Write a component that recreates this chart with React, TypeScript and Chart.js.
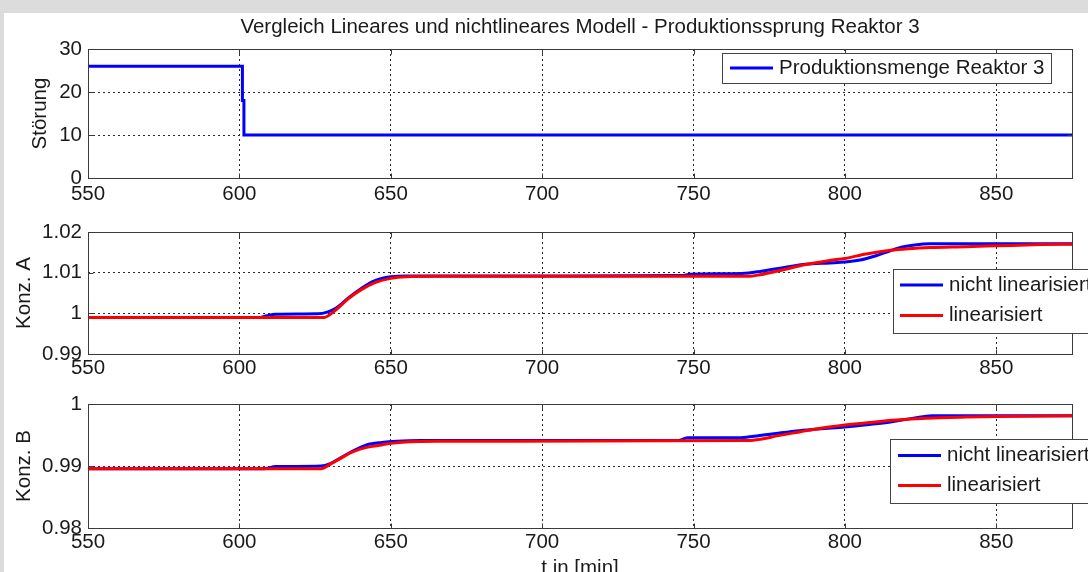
import React, { useEffect, useRef } from "react";
import { Chart, registerables } from "chart.js";

Chart.register(...registerables);

const FONT = "'Liberation Sans', Arial, Helvetica, sans-serif";
const FONT_SIZE = 20.5;
const TEXT_COLOR = "#1a1a1a";

// ---------- data ----------
const chartTitle = "Vergleich Lineares und nichtlineares Modell - Produktionssprung Reaktor 3";
const xAxisTitle = "t in [min]";
const xTicks = [550, 600, 650, 700, 750, 800, 850];
const xMin = 550;
const xMax = 875;

// subplot 1: Störung
const yTicksStoerung = [0, 10, 20, 30];
const timeStoerung = [550, 601, 601, 601.5, 601.5, 875];
const stoerung = [26, 26, 18, 18, 10, 10];
const labelStoerung = "Produktionsmenge Reaktor 3";

// subplot 2: Konz. A
const yTicksA = [0.99, 1, 1.01, 1.02];
const timeA_nl = [550, 607, 609, 612, 626, 629, 632, 636, 640, 644, 647, 650, 655, 700, 746, 749, 766, 772, 780, 787, 795, 800, 805, 810, 815, 819, 823, 828, 875];
const konzA_nl = [0.999, 0.999, 0.9994, 0.9998, 0.9999, 1.0003, 1.0013, 1.0038, 1.006, 1.0078, 1.0086, 1.009, 1.0092, 1.0092, 1.0093, 1.0096, 1.0098, 1.0103, 1.0113, 1.0121, 1.0124, 1.0126, 1.0131, 1.0141, 1.0154, 1.0163, 1.0168, 1.0171, 1.0171];
const timeA_lin = [550, 628, 631, 636, 640, 645, 650, 655, 665, 768, 772, 780, 787, 795, 800, 807, 815, 821, 828, 840, 850, 865, 875];
const konzA_lin = [0.999, 0.999, 1.0003, 1.0036, 1.0057, 1.0076, 1.0086, 1.009, 1.0091, 1.0091, 1.0095, 1.0108, 1.012, 1.013, 1.0135, 1.0146, 1.0155, 1.0159, 1.0162, 1.0164, 1.0166, 1.0169, 1.017];

// subplot 3: Konz. B
const yTicksB = [0.98, 0.99, 1];
const timeB_nl = [550, 608, 612, 627, 630, 633, 637, 642, 647, 652, 660, 745, 748, 765, 770, 778, 785, 792, 800, 808, 815, 820, 825, 829, 875];
const konzB_nl = [0.98955, 0.98955, 0.9899, 0.99, 0.9904, 0.9912, 0.9923, 0.9934, 0.9938, 0.994, 0.9941, 0.9941, 0.99455, 0.99455, 0.9948, 0.9953, 0.9957, 0.996, 0.9963, 0.9967, 0.9971, 0.9975, 0.9979, 0.9981, 0.9981];
const timeB_lin = [550, 627, 630, 633, 637, 642, 647, 650, 656, 665, 768, 772, 778, 785, 792, 800, 808, 817, 827, 840, 850, 875];
const konzB_lin = [0.98955, 0.98955, 0.9903, 0.9911, 0.9922, 0.993, 0.9934, 0.99365, 0.9939, 0.994, 0.9941, 0.9943, 0.9949, 0.9955, 0.9961, 0.9966, 0.997, 0.9974, 0.9977, 0.9979, 0.998, 0.9981];

const labelNL = "nicht linearisiert";
const labelLin = "linearisiert";

// ---------- helpers ----------
const toPoints = (xs: number[], ys: number[]) => xs.map((x, i) => ({ x, y: ys[i] }));
const fmt = (v: number) => String(+Number(v).toFixed(4));

const matlabPlugin = {
  id: "matlabBox",
  afterDatasetsDraw(chart: any) {
    const { ctx, chartArea } = chart;
    const { left, right, top, bottom } = chartArea;
    ctx.save();
    ctx.strokeStyle = "#3a3a3a";
    ctx.lineWidth = 1;
    ctx.setLineDash([]);
    const L = Math.round(left) + 0.5;
    const R = Math.round(right) + 0.5;
    const T = Math.round(top) + 0.5;
    const B = Math.round(bottom) + 0.5;
    ctx.strokeRect(L, T, R - L, B - T);
    const tl = 5;
    const xs = chart.scales.x;
    const ys = chart.scales.y;
    ctx.beginPath();
    xs.ticks.forEach((t: any) => {
      const px = Math.round(xs.getPixelForValue(t.value)) + 0.5;
      ctx.moveTo(px, B); ctx.lineTo(px, B - tl);
      ctx.moveTo(px, T); ctx.lineTo(px, T + tl);
    });
    ys.ticks.forEach((t: any) => {
      const py = Math.round(ys.getPixelForValue(t.value)) + 0.5;
      ctx.moveTo(L, py); ctx.lineTo(L + tl, py);
      ctx.moveTo(R, py); ctx.lineTo(R - tl, py);
    });
    ctx.stroke();
    ctx.restore();
  },
  afterDraw(chart: any, _args: any, opts: any) {
    const lg = opts && opts.legend;
    if (!lg) return;
    const { ctx } = chart;
    ctx.save();
    ctx.fillStyle = "#ffffff";
    ctx.fillRect(lg.x, lg.y, lg.w, lg.h);
    ctx.strokeStyle = "#444444";
    ctx.lineWidth = 1;
    ctx.strokeRect(lg.x + 0.5, lg.y + 0.5, lg.w, lg.h);
    ctx.font = `${FONT_SIZE}px ${FONT}`;
    ctx.textBaseline = "middle";
    ctx.textAlign = "left";
    chart.data.datasets.forEach((ds: any, i: number) => {
      const y = lg.y + lg.firstRow + i * lg.rowGap;
      ctx.strokeStyle = ds.borderColor;
      ctx.lineWidth = 3;
      ctx.beginPath();
      ctx.moveTo(lg.x + lg.sampleStart, y);
      ctx.lineTo(lg.x + lg.sampleStart + lg.sampleLen, y);
      ctx.stroke();
      ctx.fillStyle = TEXT_COLOR;
      ctx.fillText(ds.label, lg.x + lg.textStart, y);
    });
    ctx.restore();
  },
};

type Spec = {
  datasets: any[];
  yMin: number;
  yMax: number;
  yTicks: number[];
  yTitle: string;
  yTitlePad: number;
  topPad: number;
  xAxisHeight: number;
  xLabelPad: number;
  title?: { text: string; padTop: number; padBottom: number };
  xTitle?: { text: string; padBottom: number };
  legend: any;
};

function makeConfig(s: Spec): any {
  const font = { family: FONT, size: FONT_SIZE, weight: "normal" as const, lineHeight: 1.2 };
  return {
    type: "line",
    data: { datasets: s.datasets },
    options: {
      animation: false,
      responsive: false,
      devicePixelRatio: 1,
      layout: { padding: { left: 0, right: 16, top: s.topPad, bottom: 0 } },
      elements: { point: { radius: 0 }, line: { borderWidth: 3 } },
      plugins: {
        legend: { display: false },
        tooltip: { enabled: false },
        title: s.title
          ? {
              display: true,
              text: s.title.text,
              fullSize: false,
              color: TEXT_COLOR,
              font,
              padding: { top: s.title.padTop, bottom: s.title.padBottom },
            }
          : { display: false },
        matlabBox: { legend: s.legend },
      },
      scales: {
        x: {
          type: "linear",
          min: xMin,
          max: xMax,
          afterBuildTicks: (sc: any) => {
            sc.ticks = xTicks.map((v) => ({ value: v }));
          },
          afterFit: (sc: any) => {
            sc.height = s.xAxisHeight;
          },
          grid: { color: "#2a2a2a", lineWidth: 1, drawTicks: false },
          border: { display: false, dash: [2, 3] },
          ticks: {
            padding: s.xLabelPad,
            maxRotation: 0,
            autoSkip: false,
            color: TEXT_COLOR,
            font,
            callback: (v: any) => fmt(v),
          },
          title: s.xTitle
            ? { display: true, text: s.xTitle.text, color: TEXT_COLOR, font, padding: { top: 0, bottom: s.xTitle.padBottom } }
            : { display: false },
        },
        y: {
          type: "linear",
          min: s.yMin,
          max: s.yMax,
          afterBuildTicks: (sc: any) => {
            sc.ticks = s.yTicks.map((v) => ({ value: v }));
          },
          afterFit: (sc: any) => {
            sc.width = 88;
          },
          grid: { color: "#2a2a2a", lineWidth: 1, drawTicks: false },
          border: { display: false, dash: [2, 3] },
          ticks: {
            padding: 6,
            color: TEXT_COLOR,
            font,
            callback: (v: any) => fmt(v),
          },
          title: { display: true, text: s.yTitle, color: TEXT_COLOR, font, padding: { top: s.yTitlePad, bottom: 0 } },
        },
      },
    },
    plugins: [matlabPlugin],
  };
}

const BLUE = "#0000ff";
const RED = "#ff0000";

function lineDs(label: string, color: string, pts: any[], order: number, smooth: boolean) {
  return {
    label,
    data: pts,
    borderColor: color,
    backgroundColor: color,
    borderWidth: 3,
    pointRadius: 0,
    fill: false,
    order,
    tension: 0,
    cubicInterpolationMode: smooth ? "monotone" : "default",
  };
}

export default function App() {
  const c1 = useRef<HTMLCanvasElement | null>(null);
  const c2 = useRef<HTMLCanvasElement | null>(null);
  const c3 = useRef<HTMLCanvasElement | null>(null);

  useEffect(() => {
    const charts: Chart[] = [];
    if (c1.current) {
      charts.push(
        new Chart(
          c1.current,
          makeConfig({
            datasets: [lineDs(labelStoerung, BLUE, toPoints(timeStoerung, stoerung), 0, false)],
            yMin: 0,
            yMax: 30,
            yTicks: yTicksStoerung,
            yTitle: "Störung",
            yTitlePad: 28,
            topPad: 0,
            xAxisHeight: 32,
            xLabelPad: 4,
            title: { text: chartTitle, padTop: 15.4, padBottom: 9 },
            legend: { x: 722, y: 53, w: 329, h: 30, firstRow: 15, rowGap: 30, sampleStart: 8, sampleLen: 43, textStart: 57 },
          })
        )
      );
    }
    if (c2.current) {
      charts.push(
        new Chart(
          c2.current,
          makeConfig({
            datasets: [
              lineDs(labelNL, BLUE, toPoints(timeA_nl, konzA_nl), 1, true),
              lineDs(labelLin, RED, toPoints(timeA_lin, konzA_lin), 0, true),
            ],
            yMin: 0.99,
            yMax: 1.02,
            yTicks: yTicksA,
            yTitle: "Konz. A",
            yTitlePad: 12,
            topPad: 32,
            xAxisHeight: 26,
            xLabelPad: 2,
            legend: { x: 893, y: 69, w: 300, h: 64, firstRow: 16, rowGap: 30.5, sampleStart: 7, sampleLen: 43, textStart: 56 },
          })
        )
      );
    }
    if (c3.current) {
      charts.push(
        new Chart(
          c3.current,
          makeConfig({
            datasets: [
              lineDs(labelNL, BLUE, toPoints(timeB_nl, konzB_nl), 1, true),
              lineDs(labelLin, RED, toPoints(timeB_lin, konzB_lin), 0, true),
            ],
            yMin: 0.98,
            yMax: 1,
            yTicks: yTicksB,
            yTitle: "Konz. B",
            yTitlePad: 12,
            topPad: 24,
            xAxisHeight: 55,
            xLabelPad: 2,
            xTitle: { text: xAxisTitle, padBottom: 2 },
            legend: { x: 890, y: 59, w: 300, h: 64, firstRow: 16.5, rowGap: 30, sampleStart: 8, sampleLen: 43, textStart: 57 },
          })
        )
      );
    }
    return () => charts.forEach((c) => c.destroy());
  }, []);

  const abs = (top: number): React.CSSProperties => ({ position: "absolute", left: 0, top });

  return (
    <div style={{ position: "fixed", left: 0, top: 0, width: 1088, height: 572, background: "#dcdcdc", overflow: "hidden" }}>
      <div style={{ position: "absolute", left: 4, top: 13, width: 1084, height: 559, background: "#ffffff" }} />
      <canvas ref={c1} width={1088} height={210} style={abs(0)} />
      <canvas ref={c2} width={1088} height={180} style={abs(200)} />
      <canvas ref={c3} width={1088} height={203} style={abs(380)} />
    </div>
  );
}
